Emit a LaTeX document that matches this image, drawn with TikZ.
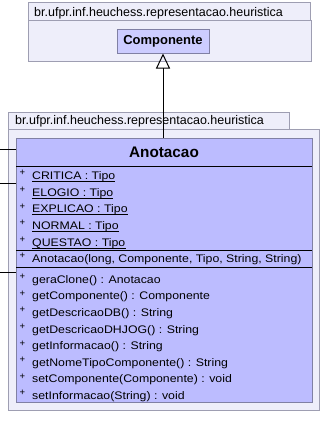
\documentclass[tikz,border=0pt]{standalone}
\usepackage{fontspec}
\setmainfont{Liberation Sans}
\newfontfamily\memberfont[FakeStretch=1.12]{Liberation Sans}
\usetikzlibrary{arrows.meta}
\definecolor{pkgfill}{RGB}{238,238,250}
\definecolor{pkgdraw}{RGB}{158,158,178}
\definecolor{clsfill}{RGB}{188,188,255}
\definecolor{clsdraw}{RGB}{128,128,164}
\definecolor{cmpfill}{RGB}{204,204,255}
\begin{document}
\begin{tikzpicture}[x=1pt,y=-1pt,
  pkgshape/.style={draw=pkgdraw,fill=pkgfill,line width=1pt},
  pkglabel/.style={anchor=base west,inner sep=0pt,font=\fontsize{12.5}{14}\selectfont},
  classbox/.style={draw=clsdraw,fill=clsfill,line width=1pt,inner sep=0pt},
  member/.style={anchor=base west,inner sep=0pt,font=\memberfont\fontsize{11}{13}\selectfont},
  plusmark/.style={anchor=base west,inner sep=0pt,font=\fontsize{9.5}{11}\selectfont},
  sepline/.style={line width=1pt,black},
  staticline/.style={line width=0.8pt,black},
  link/.style={line width=1pt,black}]
\useasboundingbox[fill=white] (0,0) rectangle (322,448);

% upper package: tab and body
\draw[pkgshape] (28,2) rectangle (310,20);
\draw[pkgshape] (28,20) rectangle (311,61);
\node[pkglabel] (pkgA) at (34,16) {br.ufpr.inf.heuchess.representacao.heuristica};
\node[classbox,fill=cmpfill,minimum width=92pt,minimum height=24pt,
      font=\bfseries\fontsize{13}{15}\selectfont] (comp) at (163,41) {Componente};

% lower package: tab and body
\draw[pkgshape] (8,112) rectangle (289,129);
\draw[pkgshape] (8,129) rectangle (319,410);
\node[pkglabel] (pkgB) at (15,124.5) {br.ufpr.inf.heuchess.representacao.heuristica};

% class Anotacao
\node[classbox,minimum width=296pt,minimum height=264pt] (anot) at (164,270) {};
\node[anchor=base,inner sep=0pt,font=\bfseries\fontsize{15.3}{18}\selectfont]
  (anotname) at (164,157.3) {Anotacao};
\draw[sepline] (16,166) -- (312,166);
\draw[sepline] (16,250.7) -- (312,250.7);
\draw[sepline] (16,267.7) -- (312,267.7);

% static attributes (underlined)
\foreach \t/\y [count=\i] in {CRITICA : Tipo/179.3, ELOGIO : Tipo/196,
    EXPLICAO : Tipo/212.7, NORMAL : Tipo/229.5, QUESTAO : Tipo/246}{
  \node[plusmark] (ap\i) at (19.4,\y-3.6) {+};
  \node[member] (at\i) at (32,\y) {\t};
  \draw[staticline] ([yshift=-1.9pt]at\i.base west) -- ([yshift=-1.9pt]at\i.base east);
}

% constructor
\node[plusmark] (cp) at (19.4,262.5-3.6) {+};
\node[member] (ctor) at (32,262.5) {Anotacao(long, Componente, Tipo, String, String)};

% operations
\foreach \t/\y [count=\i] in {geraClone() : Anotacao/283,
    getComponente() : Componente/299.7, getDescricaoDB() : String/316.3,
    getDescricaoDHJOG() : String/333, getInformacao() : String/349.6,
    getNomeTipoComponente() : String/366.2,
    setComponente(Componente) : void/382.9, setInformacao(String) : void/399.5}{
  \node[plusmark] (op\i) at (19.4,\y-3.6) {+};
  \node[member] (ops\i) at (32,\y) {\t};
}

% generalization Anotacao -> Componente
\draw[link,-{Triangle[open,length=15pt,width=14pt]}] (comp.south |- anot.north) -- (comp.south);

% incoming associations from the left
\coordinate (inA) at (0,149);
\coordinate (inB) at (0,183);
\coordinate (inC) at (0,272);
\draw[link] (inA) -- (inA -| anot.west);
\draw[link] (inB) -- (inB -| anot.west);
\draw[link] (inC) -- (inC -| anot.west);
\end{tikzpicture}
\end{document}
